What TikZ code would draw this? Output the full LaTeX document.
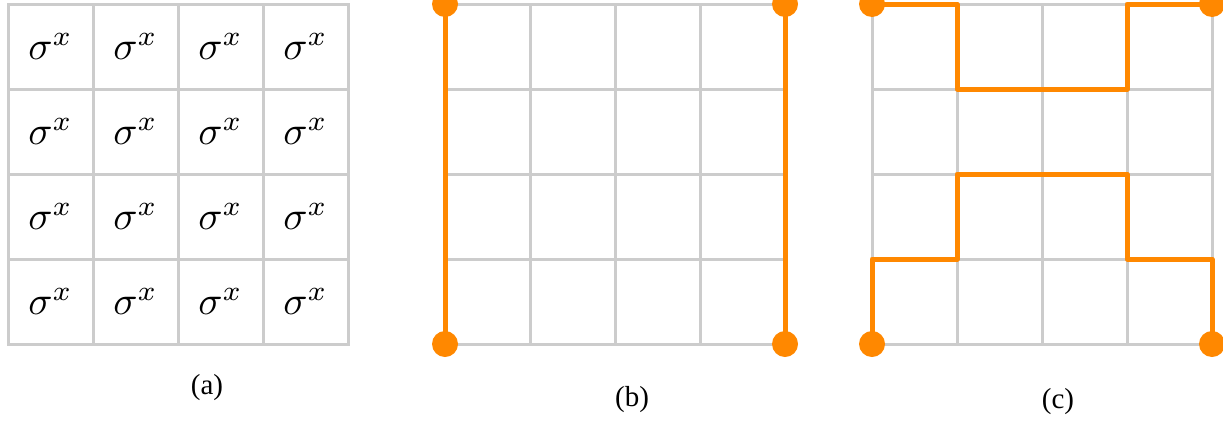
\documentclass[tikz,border=0pt]{standalone}
\usepackage{graphicx}
\usepackage{fontspec}
\setmainfont{Liberation Serif}
\usetikzlibrary{positioning}
\definecolor{gridgray}{RGB}{204,204,204}
\definecolor{pathorange}{RGB}{255,136,0}
\newcommand{\sitesx}{\scalebox{4}{$\sigma^x$}}
\tikzset{
  gridline/.style={draw=gridgray, line width=3pt, line cap=rect},
  op/.style={inner sep=0pt},
  dot/.style={circle, fill=pathorange, minimum size=26pt, inner sep=0pt},
  strand/.style={draw=pathorange, line width=5pt, line join=round},
  sublbl/.style={font=\fontsize{29}{33}\selectfont, inner sep=0pt}
}

\begin{document}
\begin{tikzpicture}[x=1pt, y=-1pt]
  \useasboundingbox (0,0) rectangle (1223,421);
  % lattice grids of the three panels
  \foreach \ox in {8,445,872} {
    \foreach \i in {0,...,4} {
      \draw[gridline] (\ox+85*\i,4) -- (\ox+85*\i,344);
      \draw[gridline] (\ox,4+85*\i) -- (\ox+340,4+85*\i);
    }
  }
  % (a) sigma^x on every site
  \foreach \r in {0,...,3} {
    \foreach \c in {0,...,3} {
      \node[op] (s\r\c) at (50.5+85*\c,46.5+85*\r) {\sitesx};
    }
  }
  % (b) straight strings
  \coordinate (bTL) at (445,4);
  \coordinate (bBL) at (445,344);
  \coordinate (bTR) at (785,4);
  \coordinate (bBR) at (785,344);
  \draw[strand] (bBL) -- (bTL);
  \draw[strand] (bBR) -- (bTR);
  % (c) deformed strings
  \coordinate (cTL) at (872,4);
  \coordinate (cBL) at (872,344);
  \coordinate (cTR) at (1212,4);
  \coordinate (cBR) at (1212,344);
  \draw[strand] (cTL) -- ++(85,0) -- ++(0,85) -- ++(170,0) |- (cTR);
  \draw[strand] (cBL) -- ++(0,-85) -- ++(85,0) -- ++(0,-85) -- ++(170,0)
    -- ++(0,85) -| (cBR);
  % end points
  \foreach \p in {bTL,bBL,bTR,bBR,cTL,cBL,cTR,cBR} {
    \node[dot] (\p-dot) at (\p) {};
  }
  % panel labels
  \node[sublbl] (lblA) at (207,388) {(a)};
  \node[sublbl] (lblB) at (632,400) {(b)};
  \node[sublbl] (lblC) at (1058,402) {(c)};
\end{tikzpicture}
\end{document}
